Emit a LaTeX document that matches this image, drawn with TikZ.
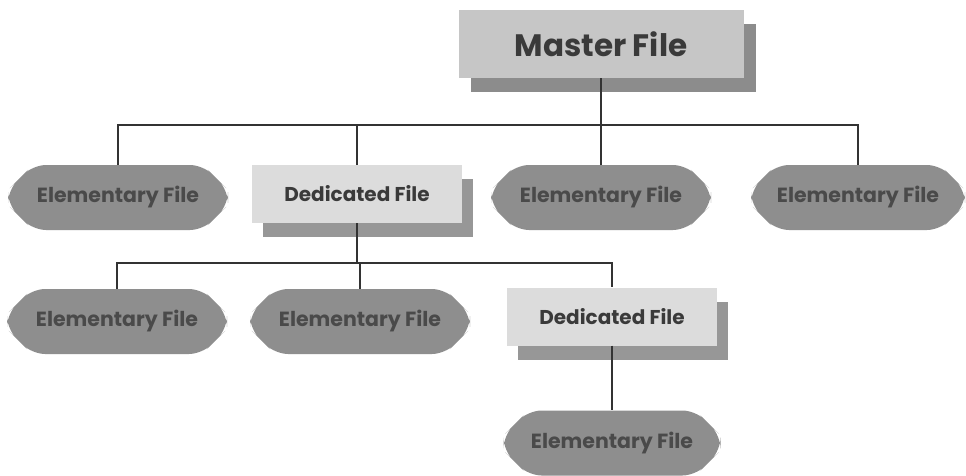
\documentclass[tikz,border=0pt]{standalone}
\usepackage{fontspec}
\setmainfont{Poppins}
\usetikzlibrary{shapes.misc,shadows}
\definecolor{elemfill}{HTML}{8E8E8E}
\definecolor{elemtext}{HTML}{4A4A4A}
\definecolor{dedfill}{HTML}{DCDCDC}
\definecolor{dedshadow}{HTML}{979797}
\definecolor{mastfill}{HTML}{C6C6C6}
\definecolor{mastshadow}{HTML}{8C8C8C}
\definecolor{linecol}{HTML}{333333}
\definecolor{darktext}{HTML}{3A3A3A}
\begin{document}
\begin{tikzpicture}[x=1pt,y=-1pt,
  elemfile/.style={chamfered rectangle, chamfered rectangle xsep=14pt,
    chamfered rectangle ysep=14pt, rounded corners=13pt, fill=elemfill,
    minimum width=220pt, minimum height=65pt, inner sep=0pt,
    font=\bfseries\fontsize{20.5}{20.5}\selectfont, text=elemtext},
  dedfile/.style={rectangle, fill=dedfill, minimum width=210pt, minimum height=58pt,
    inner sep=0pt, font=\bfseries\fontsize{20}{20}\selectfont, text=darktext,
    general shadow={fill=dedshadow, shadow xshift=11pt, shadow yshift=-14pt}},
  mastfile/.style={rectangle, fill=mastfill, minimum width=285pt, minimum height=68pt,
    inner sep=0pt, font=\bfseries\fontsize{31}{31}\selectfont, text=darktext,
    general shadow={fill=mastshadow, shadow xshift=12pt, shadow yshift=-14pt}},
  conn/.style={draw=linecol, line width=1.1pt}]
\fill[white] (0,0) rectangle (966,476);
\useasboundingbox (0,0) rectangle (966,476);
% nodes
\node[mastfile] (m) at (601,44) {Master File};
\node[elemfile] (e1) at (118,197.5) {Elementary File};
\node[dedfile] (d1) at (357,194) {Dedicated File};
\node[elemfile] (e3) at (601,197.5) {Elementary File};
\node[elemfile, minimum width=214pt] (e4) at (858,197.5) {Elementary File};
\node[elemfile] (e5) at (117,321.5) {Elementary File};
\node[elemfile] (e6) at (360,321.5) {Elementary File};
\node[dedfile] (d2) at (612,316.5) {Dedicated File};
\node[elemfile, minimum width=217pt] (e7) at (612,443) {Elementary File};
% buses
\coordinate (bus1) at (0,125);
\coordinate (bus2) at (0,263);
\draw[conn] (m.south) -- (m.south |- bus1);
\draw[conn] (e1.north) -- (e1.north |- bus1) -- (e4.north |- bus1) -- (e4.north);
\draw[conn] (d1.north) -- (d1.north |- bus1);
\draw[conn] (e3.north) -- (e3.north |- bus1);
\draw[conn] (d1.south) -- (d1.south |- bus2);
\draw[conn] (e5.north) -- (e5.north |- bus2) -- (d2.north |- bus2) -- (d2.north);
\draw[conn] (e6.north) -- (e6.north |- bus2);
\draw[conn] (d2.south) -- (e7.north);
\end{tikzpicture}
\end{document}
